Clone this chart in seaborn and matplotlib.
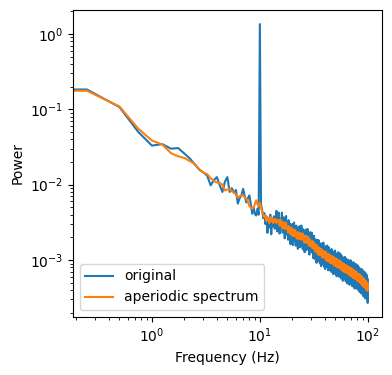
import numpy as np
import pandas as pd
import matplotlib
matplotlib.use("Agg")
import matplotlib.pyplot as plt
import seaborn as sns

# -------------------------------
# Data: 0.25 Hz frequency bins, power in units of 1e-4
# -------------------------------
freqs = np.linspace(0, 100, 401)

original_e4 = [
    1830, 1830, 1070, 497, 330, 345, 300, 306, 258, 222, 185, 158, 145, 132, 98, 115, 126, 98, 80, 110,
    126, 80, 90, 78, 85, 56, 66, 72, 88, 70, 58, 66, 72, 55, 41, 50, 41, 39, 48, 40,
    13500, 55, 46, 36, 42, 30, 38, 23, 33, 27, 40, 22, 35, 28, 38, 26, 36, 45, 24, 38,
    42.5, 22.4, 35.4, 25.8, 42.6, 23.1, 27.7, 37, 19.4, 30.9, 38.4, 21.9, 28.4, 18.6, 33.8, 23, 30.5, 16.2, 28.6, 21,
    30.1, 15.8, 25.3, 31.4, 18, 23.4, 15.5, 28.6, 19.6, 26.4, 14.1, 25, 18.5, 28.1, 14.8, 23.6, 17.3, 28.7, 15.6, 18.9,
    13.9, 25.6, 17.6, 23.7, 12.7, 22.7, 16.7, 25.5, 13.5, 21.4, 15.6, 25.8, 14.0, 16.9, 22.5, 11.8, 18.9, 23.5, 13.4, 17.5,
    14.0, 23.1, 12.6, 15.2, 20.2, 10.6, 16.9, 21.0, 12.0, 15.5, 10.3, 18.9, 12.9, 17.3, 9.2, 16.4, 12.1, 18.5, 9.7, 15.4,
    14.6, 18.2, 10.5, 13.7, 9.0, 16.6, 11.4, 15.4, 8.3, 14.6, 10.9, 16.6, 8.8, 13.9, 10.2, 17.0, 9.3, 11.2, 15.0, 8.0,
    14.2, 7.6, 13.5, 10.0, 15.3, 8.1, 12.8, 9.4, 15.6, 8.5, 10.4, 13.9, 7.3, 11.8, 14.8, 8.5, 11.1, 7.4, 13.7, 9.4,
    8.1, 9.8, 13.2, 7.0, 11.2, 14.0, 8.1, 10.6, 7.0, 12.9, 8.9, 12.0, 6.5, 11.5, 8.5, 13.0, 6.9, 10.9, 8.1, 13.4,
    7.5, 9.8, 6.5, 12.1, 8.3, 11.2, 6.1, 10.8, 8.0, 12.2, 6.5, 10.3, 7.6, 12.7, 6.9, 8.4, 11.3, 6.0, 9.6, 12.0,
    9.9, 7.3, 12.2, 6.7, 8.1, 10.8, 5.7, 9.2, 11.5, 6.6, 8.7, 5.8, 10.7, 7.3, 9.9, 5.3, 9.5, 7.0, 10.8, 5.7,
    9.3, 6.9, 10.6, 5.6, 9.0, 6.6, 11.0, 6.0, 7.3, 9.8, 5.2, 8.4, 10.5, 6.1, 7.9, 5.3, 9.8, 6.7, 9.1, 4.9,
    7.0, 9.4, 5.0, 8.1, 10.1, 5.8, 7.6, 5.1, 9.4, 6.5, 8.7, 4.7, 8.4, 6.2, 9.5, 5.1, 8.1, 5.9, 9.9, 5.4,
    9.5, 5.5, 7.2, 4.8, 8.9, 6.1, 8.3, 4.5, 7.9, 5.9, 9.0, 4.8, 7.6, 5.6, 9.4, 5.1, 6.2, 8.4, 4.4, 7.2,
    5.8, 7.9, 4.2, 7.6, 5.6, 8.6, 4.6, 7.3, 5.4, 8.9, 4.9, 5.9, 7.9, 4.2, 6.8, 8.5, 4.9, 6.4, 4.3, 7.9,
    4.3, 6.9, 5.1, 8.5, 4.6, 5.6, 7.6, 4.0, 6.5, 8.1, 4.7, 6.1, 4.0, 7.5, 5.2, 7.0, 3.8, 6.7, 5.0, 7.6,
    3.8, 6.1, 7.7, 4.4, 5.8, 3.9, 7.1, 4.9, 6.6, 3.6, 6.4, 4.7, 7.2, 3.8, 6.1, 4.5, 7.5, 4.1, 5.0, 6.7,
    5.4, 3.6, 6.7, 4.6, 6.2, 3.3, 6.0, 4.4, 6.8, 3.6, 5.7, 4.2, 7.0, 3.8, 4.6, 6.2, 3.3, 5.3, 6.6, 3.8,
    3.1, 5.6, 4.1, 6.3, 3.3, 5.3, 3.9, 6.5, 3.6, 4.3, 5.8, 3.1, 4.9, 6.2, 3.6, 4.6, 3.1, 5.7, 3.9, 2.7, 4.3,
]

aperiodic_e4 = [
    1760, 1760, 1090, 550, 385, 340, 262, 238, 226, 205, 188, 160, 145, 138, 122, 112, 107, 105, 100, 84,
    86, 88, 82, 79, 74, 68, 70, 72, 72, 68, 65, 60, 52, 50, 48, 50, 56, 62, 55, 52,
    58, 50, 44, 40, 37, 39, 33, 37, 35, 31, 37, 33, 36, 31, 35, 32, 35, 31, 33, 34,
    34.0, 28.6, 34.5, 28.9, 30.9, 26.3, 32.1, 28.0, 25.9, 29.8, 31.4, 25.8, 27.3, 23.3, 28.3, 24.5, 26, 22.1, 26.9, 22.2,
    20.9, 25.6, 22.3, 20.7, 23.9, 25.2, 20.8, 22.2, 19.2, 23.5, 20.5, 22, 18.9, 23.1, 19.2, 22.1, 18.7, 22.6, 19, 20.5,
    22.4, 18.5, 19.8, 17.1, 21.0, 18.4, 19.8, 17.0, 20.9, 17.3, 19.9, 16.7, 20.2, 16.9, 18.1, 15.5, 18.9, 16.5, 15.3, 17.7,
    15.8, 17.0, 14.6, 17.8, 14.7, 16.8, 14.2, 17.0, 14.3, 15.2, 13.1, 16.0, 13.9, 12.9, 14.8, 15.7, 13.0, 13.8, 11.9, 14.6,
    14.9, 12.5, 13.5, 11.6, 14.2, 12.4, 11.6, 13.4, 14.1, 11.7, 12.5, 10.8, 13.3, 11.6, 12.5, 10.8, 13.2, 11.0, 12.7, 10.8,
    11.3, 10.5, 12.1, 12.9, 10.6, 11.3, 9.8, 12.1, 10.6, 11.4, 9.8, 12.0, 10.0, 11.6, 9.8, 11.9, 10.1, 10.9, 9.3, 11.5,
    10.5, 9.1, 11.2, 9.8, 10.6, 9.1, 11.2, 9.3, 10.8, 9.2, 11.1, 9.4, 10.1, 8.7, 10.7, 9.4, 8.7, 10.1, 10.7, 8.9,
    9.7, 8.3, 10.3, 9.0, 8.4, 9.8, 10.4, 8.6, 9.2, 8.0, 9.8, 8.6, 9.3, 8.0, 9.9, 8.2, 9.5, 8.1, 9.8, 8.3,
    7.8, 9.6, 8.0, 9.2, 7.8, 9.5, 8.0, 8.6, 7.4, 9.1, 8.0, 7.5, 8.7, 9.2, 7.6, 8.2, 7.1, 8.7, 7.7, 8.3,
    8.4, 8.9, 7.4, 7.9, 6.9, 8.5, 7.4, 8.0, 6.9, 8.5, 7.1, 8.2, 7.0, 8.5, 7.2, 7.8, 6.7, 8.2, 7.2, 6.8,
    8.1, 7.1, 7.6, 6.6, 8.1, 6.8, 7.8, 6.7, 8.1, 6.8, 7.4, 6.3, 7.8, 6.9, 6.4, 7.5, 7.9, 6.6, 7.0, 6.1,
    6.3, 7.7, 6.5, 7.0, 6.1, 7.5, 6.6, 6.1, 7.1, 7.6, 6.3, 6.7, 5.8, 7.2, 6.3, 6.8, 5.9, 7.3, 6.1, 7.0,
    7.1, 6.3, 5.9, 6.8, 7.2, 6.0, 6.4, 5.6, 6.9, 6.0, 6.5, 5.6, 6.9, 5.8, 6.7, 5.7, 6.9, 5.8, 6.3, 5.4,
    5.7, 6.1, 5.3, 6.5, 5.7, 6.2, 5.3, 6.5, 5.5, 6.3, 5.4, 6.5, 5.5, 5.9, 5.1, 6.3, 5.5, 5.2, 6.0, 6.4,
    5.8, 5.0, 6.2, 5.2, 6.0, 5.1, 6.1, 5.2, 5.6, 4.8, 5.9, 5.2, 4.9, 5.6, 6.0, 5.0, 5.3, 4.6, 5.7, 5.0,
    4.9, 5.3, 4.6, 5.6, 4.9, 4.6, 5.4, 5.7, 4.7, 5.0, 4.4, 5.4, 4.7, 5.1, 4.4, 5.4, 4.5, 5.2, 4.4, 5.3,
    4.3, 5.0, 5.3, 4.4, 4.7, 4.1, 5.0, 4.4, 4.8, 4.1, 5.0, 4.2, 4.8, 4.1, 5.0, 4.2, 4.5, 3.9, 4.8, 4.2, 4.8,
]

data = pd.DataFrame({
    "Frequency": freqs,
    "original": np.array(original_e4) * 1e-4,
    "aperiodic": np.array(aperiodic_e4) * 1e-4,
})

# -------------------------------
# Plot
# -------------------------------
fig, ax = plt.subplots(figsize=(3.92, 3.75), dpi=100)
fig.subplots_adjust(left=0.186, right=0.974, top=0.973, bottom=0.155)

sns.lineplot(data=data, x="Frequency", y="original", ax=ax, color="C0",
             label="original", errorbar=None)
sns.lineplot(data=data, x="Frequency", y="aperiodic", ax=ax, color="C1",
             label="aperiodic spectrum", errorbar=None)

ax.set_xscale("log")
ax.set_yscale("log")
ax.set_xlabel("Frequency (Hz)")
ax.set_ylabel("Power")
ax.legend(loc="lower left")

fig.savefig("out.png", dpi=100)
